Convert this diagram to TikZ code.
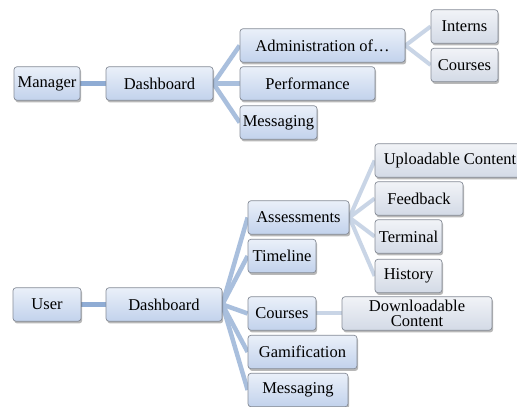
\documentclass[tikz,border=0pt]{standalone}
\usepackage{fontspec}
\setmainfont{Liberation Serif}
\usetikzlibrary{shadows,backgrounds}
\definecolor{edgeA}{HTML}{8FACD4}
\definecolor{edgeB}{HTML}{A9BFDD}
\definecolor{edgeC}{HTML}{C9D5E6}
\definecolor{boxline}{HTML}{868C97}
\definecolor{blueTop}{HTML}{EAF0F9}
\definecolor{blueBot}{HTML}{C2D2EC}
\definecolor{grayTop}{HTML}{F1F3F7}
\definecolor{grayBot}{HTML}{D3DAE6}
\tikzset{
  box/.style={draw=boxline, line width=0.7pt, rounded corners=3pt,
    minimum height=33.5pt, inner sep=0pt, align=center,
    font=\fontsize{16.5}{15.5}\selectfont,
    drop shadow={shadow xshift=1.2pt, shadow yshift=-2.2pt, fill=black, opacity=0.28}},
  bluebox/.style={box, top color=blueTop, bottom color=blueBot},
  graybox/.style={box, top color=grayTop, bottom color=grayBot},
  linkA/.style={draw=edgeA, line width=5pt},
  linkB/.style={draw=edgeB, line width=4.5pt},
  linkC/.style={draw=edgeC, line width=4pt}
}
\begin{document}
\begin{tikzpicture}[x=1pt,y=1pt]
  \useasboundingbox (0,0) rectangle (517,407);
  \clip (0,0) rectangle (517,407);

  % manager tree
  \node[bluebox, minimum width=66pt]  (mgr)    at (47,323.5)    {Manager};
  \node[bluebox, minimum width=107pt] (mdash)  at (159.5,323.5) {Dashboard};
  \node[bluebox, minimum width=165pt] (admin)  at (322.5,361.5) {Administration of…};
  \node[bluebox, minimum width=135pt] (perf)   at (307.5,323.5) {Performance};
  \node[bluebox, minimum width=77pt]  (mmsg)   at (278.5,284.5) {Messaging};
  \node[graybox, minimum width=67pt]  (intern) at (464.5,380.5) {Interns};
  \node[graybox, minimum width=67pt]  (mcrs)   at (464.5,342)   {Courses};

  % user tree
  \node[bluebox, minimum width=68pt]  (user)   at (47,102.5)    {User};
  \node[bluebox, minimum width=116pt] (udash)  at (164,102.5)   {Dashboard};
  \node[bluebox, minimum width=101pt] (assess) at (298.5,189.5) {Assessments};
  \node[bluebox, minimum width=68pt]  (tline)  at (282,151)     {Timeline};
  \node[bluebox, minimum width=68pt]  (ucrs)   at (282,93.5)    {Courses};
  \node[bluebox, minimum width=109pt] (gamif)  at (302.5,55)    {Gamification};
  \node[bluebox, minimum width=100pt] (umsg)   at (298,17)      {Messaging};
  \node[graybox, minimum width=150pt] (upload) at (450,246.5)   {Uploadable Content};
  \node[graybox, minimum width=88pt]  (feed)   at (419,208.5)   {Feedback};
  \node[graybox, minimum width=67pt]  (term)   at (408.5,170.5) {Terminal};
  \node[graybox, minimum width=67pt]  (hist)   at (408.5,131)   {History};
  \node[graybox, minimum width=150pt] (dload)  at (417,93.5)    {Downloadable\\Content};

  \begin{pgfonlayer}{background}
    \fill[white] (0,0) rectangle (517,407);
    \draw[linkA] (mgr.east) -- (mdash.west);
    \foreach \c in {admin,perf,mmsg} \draw[linkB] (mdash.east) -- (\c.west);
    \foreach \c in {intern,mcrs} \draw[linkC] (admin.east) -- (\c.west);

    \draw[linkA] (user.east) -- (udash.west);
    \foreach \c in {assess,tline,ucrs,gamif,umsg} \draw[linkB] (udash.east) -- (\c.west);
    \foreach \c in {upload,feed,term,hist} \draw[linkC] (assess.east) -- (\c.west);
    \draw[linkC] (ucrs.east) -- (dload.west);
  \end{pgfonlayer}
\end{tikzpicture}
\end{document}
